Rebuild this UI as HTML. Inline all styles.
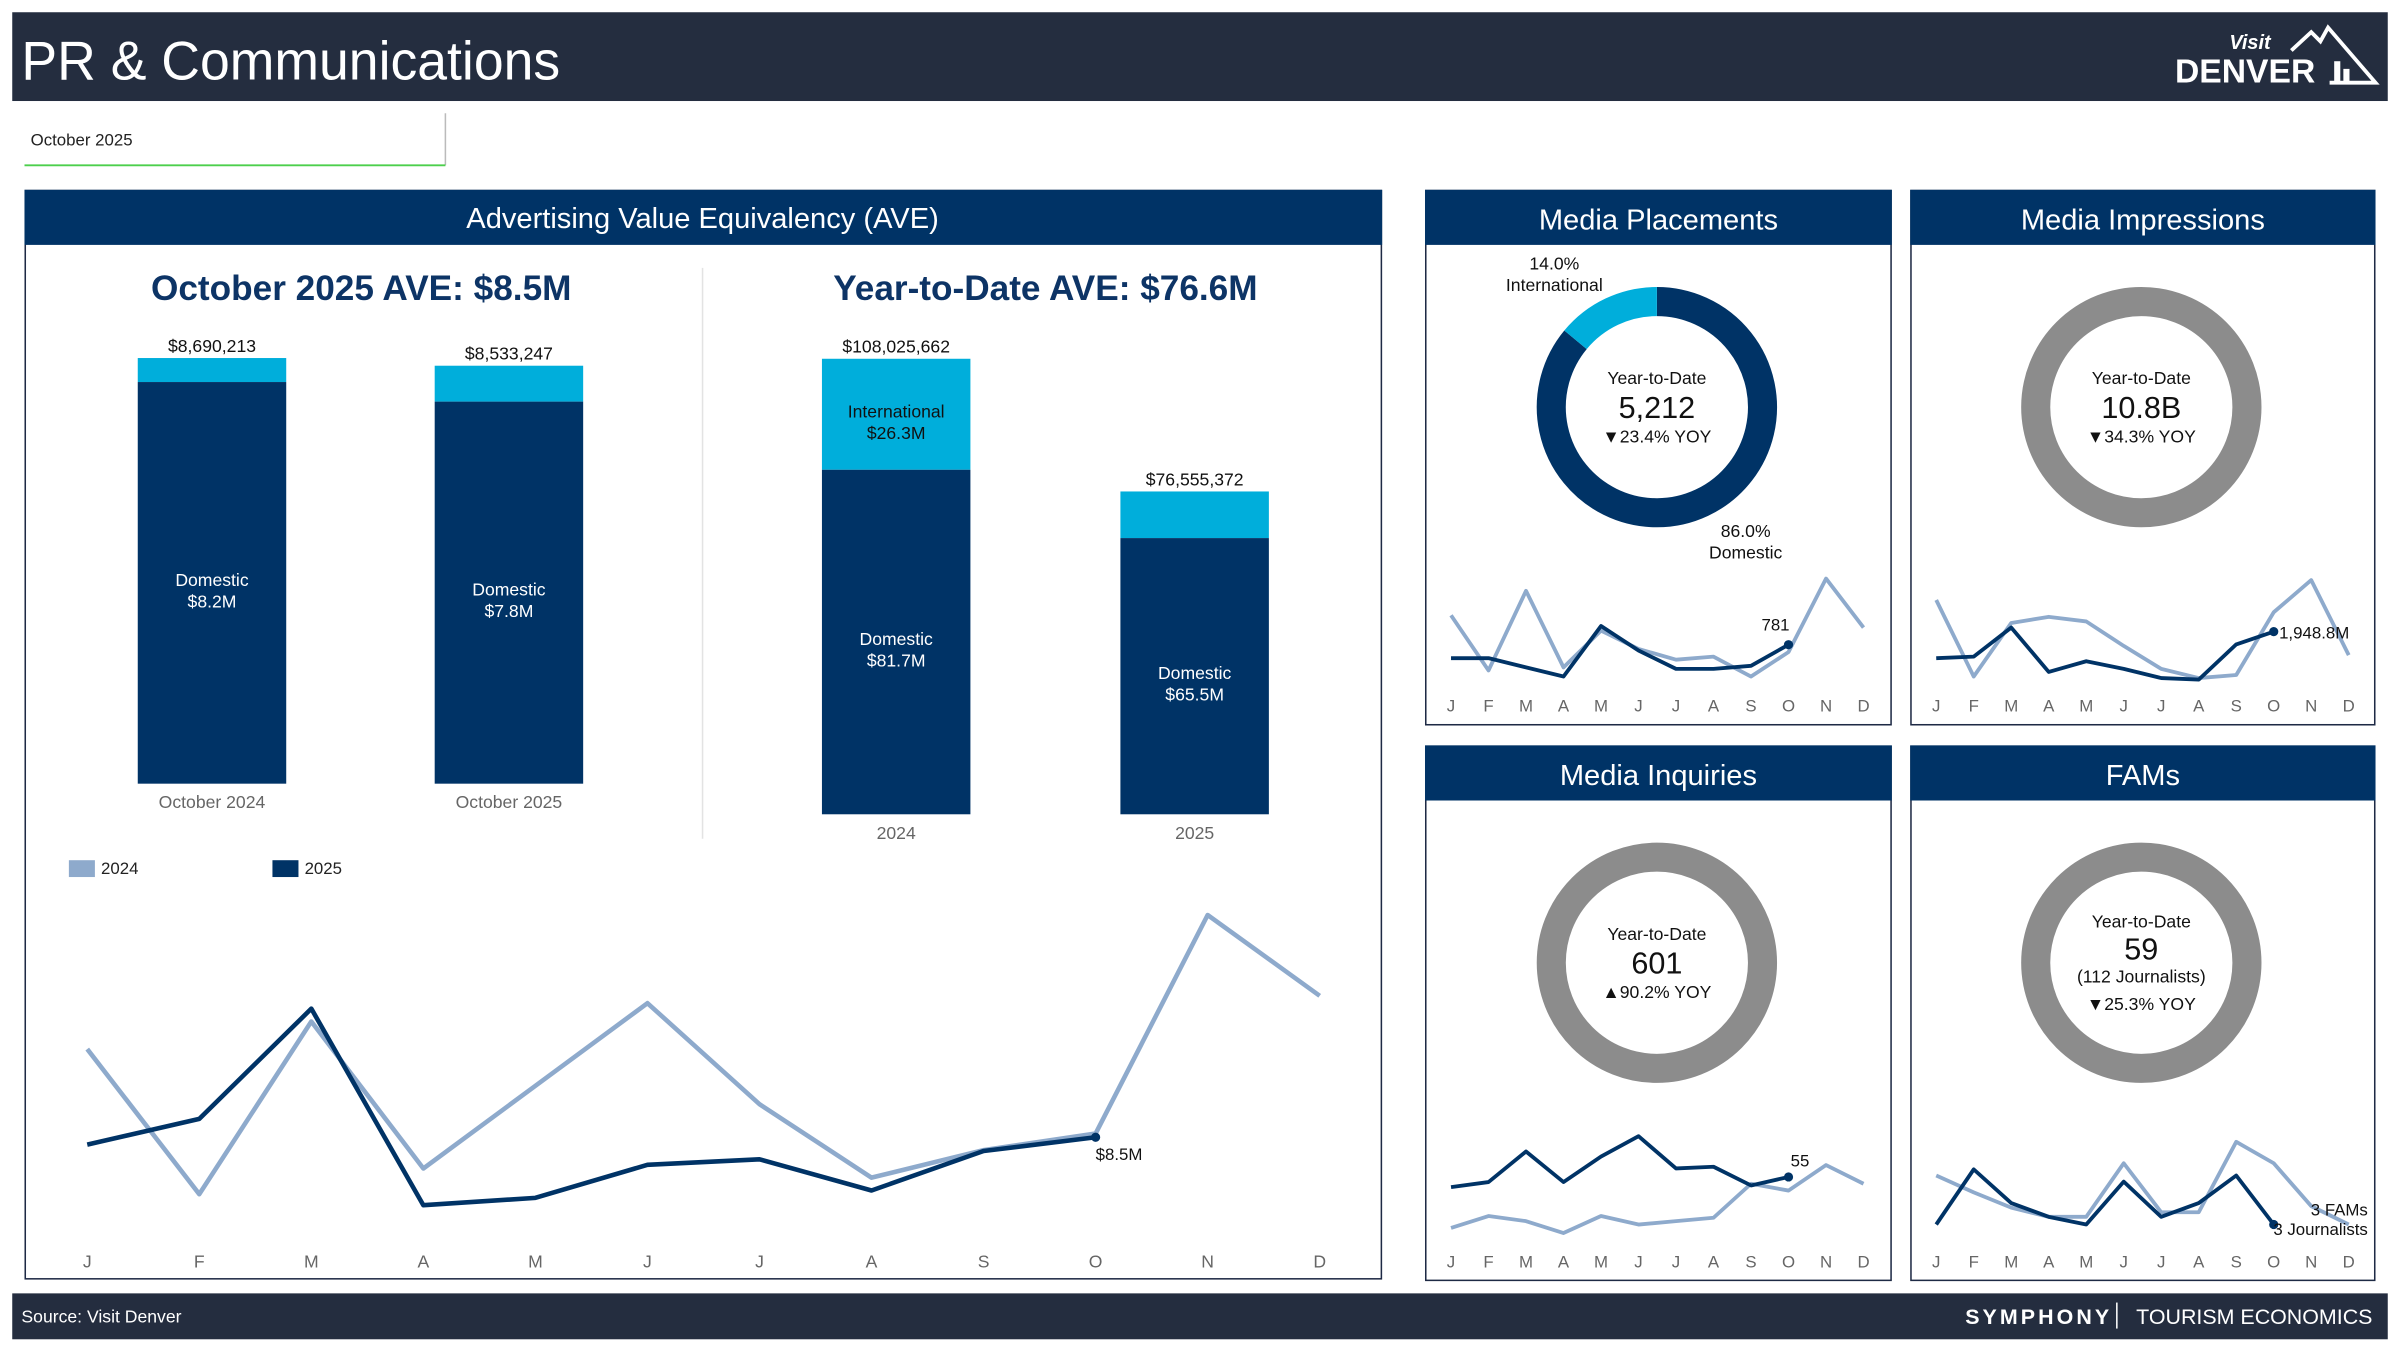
<!DOCTYPE html>
<html><head><meta charset="utf-8"><style>
html,body{margin:0;padding:0;background:#fff;}
svg{display:block;font-family:"Liberation Sans",sans-serif;}
</style></head><body>
<svg id="root" width="2400" height="1350" viewBox="0 0 1568 882" xmlns="http://www.w3.org/2000/svg">
<rect x="0" y="0" width="1568" height="882" fill="#fff"/>
<g>
<rect x="8" y="8" width="1552" height="58" fill="#242d3f"/>
<text x="14" y="52" font-size="36" fill="#fff" textLength="352" lengthAdjust="spacingAndGlyphs">PR &amp; Communications</text>
<g>
<text x="1470" y="32" font-size="13" font-style="italic" font-weight="bold" fill="#fff" text-anchor="middle">Visit</text>
<text x="1421" y="54" font-size="22" font-weight="bold" fill="#fff">DENVER</text>
<polyline points="1497,33 1510,21 1516,27 1521,18 1552,54 1522,54" fill="none" stroke="#fff" stroke-width="2.5"/>
<rect x="1525" y="40" width="4" height="14" fill="#fff"/><rect x="1531" y="45" width="4" height="9" fill="#fff"/>
</g>
</g>
<g>
<rect x="16" y="74" width="275" height="34" fill="#fff"/>
<line x1="291" y1="74" x2="291" y2="108" stroke="#bbb" stroke-width="1"/>
<line x1="16" y1="108" x2="291" y2="108" stroke="#4ccf4c" stroke-width="1.2"/>
<text x="20" y="95" font-size="11" fill="#222">October 2025</text>
</g>

<g>
<rect x="16.5" y="124.5" width="886" height="711" fill="#fff" stroke="#1e2a45" stroke-width="1"/>
<rect x="16" y="124" width="887" height="36" fill="#003366"/>
<text x="459" y="149" font-size="19" fill="#fff" text-anchor="middle">Advertising Value Equivalency (AVE)</text>
<text x="236" y="196" font-size="23" font-weight="bold" fill="#0d3466" text-anchor="middle">October 2025 AVE: $8.5M</text>
<text x="683" y="196" font-size="23" font-weight="bold" fill="#0d3466" text-anchor="middle">Year-to-Date AVE: $76.6M</text>
<line x1="459" y1="175" x2="459" y2="548" stroke="#e3e3e3" stroke-width="1"/>
<g id="bars"></g>
<g>
<rect x="45" y="562" width="17" height="11" fill="#8eaacc"/><text x="66" y="571" font-size="11" fill="#222">2024</text>
<rect x="178" y="562" width="17" height="11" fill="#003366"/><text x="199" y="571" font-size="11" fill="#222">2025</text>
</g>
<g id="aveLine"></g>
</g>

<g id="panels"></g>

<g>
<rect x="8" y="845" width="1552" height="30" fill="#242d3f"/>
<text x="14" y="864" font-size="11.5" fill="#fff">Source: Visit Denver</text>
<text x="1380" y="865" font-size="14" font-weight="bold" fill="#fff" letter-spacing="2" text-anchor="end">SYMPHONY</text>
<line x1="1383" y1="851" x2="1383" y2="868" stroke="#fff" stroke-width="1"/>
<text x="1550" y="865" font-size="14" fill="#fff" text-anchor="end">TOURISM ECONOMICS</text>
</g>
</svg>
<script>
const NS='http://www.w3.org/2000/svg';
function mk(tag,attrs,parent){const e=document.createElementNS(NS,tag);for(const k in attrs)e.setAttribute(k,attrs[k]);parent.appendChild(e);return e;}
function txt(s,attrs,parent){const e=mk('text',attrs,parent);e.textContent=s;return e;}

const monthCats=['October 2024','October 2025'];
const monthDomestic=[8.2,7.8];
const monthTotal=[8690213,8533247];
const monthTotalLabels=['$8,690,213','$8,533,247'];
const monthDomLabels=['$8.2M','$7.8M'];
const ytdCats=['2024','2025'];
const ytdDomestic=[81.7,65.5];
const ytdTotal=[108025662,76555372];
const ytdTotalLabels=['$108,025,662','$76,555,372'];
const ytdDomLabels=['$81.7M','$65.5M'];
const ytdIntlLabels=['$26.3M',''];

const months=['J','F','M','A','M','J','J','A','S','O','N','D'];
const ave2024=[13.3,5.4,14.8,6.8,11.3,15.8,10.3,6.3,7.8,8.7,20.6,16.2];
const ave2025=[8.1,9.5,15.5,4.8,5.2,7.0,7.3,5.6,7.75,8.5];
const aveLastLabel='$8.5M';

const placements2024=[1088,512,1344,544,928,736,624,656,448,704,1472,960];
const placements2025=[640,640,544,448,976,720,528,528,560,781];
const impressions2024=[2652,952,2142,2278,2176,1632,1122,918,986,2380,3094,1428];
const impressions2025=[1360,1394,2040,1054,1292,1122,918,884,1666,1949];
const inquiries2024=[25,32,29,22,32,27,29,31,51,47,62,51];
const inquiries2025=[49,52,70,52,67,79,60,61,50,55];
const fams2024=[6.2,5.1,4.1,3.5,3.5,7.0,3.8,3.8,8.4,7.0,4.2,3.0];
const fams2025=[3.0,6.6,4.4,3.5,3.0,5.8,3.5,4.4,6.2,3.0];
const placementShares=[86.0,14.0];

const NAVY='#003366', LIGHT='#00aedb', PALE='#8eaacc', GRAY='#8c8c8c';

const bars=document.getElementById('bars');
function drawBars(cats,dom,tot,totLabels,domLabels,intlLabels,x0,gap,base,pxPerUnit,unitDiv,catY,pfx){
  cats.forEach((c,i)=>{
    const x=x0+i*gap, w=97;
    const tv=tot[i]/unitDiv;
    const hT=tv*pxPerUnit, hD=dom[i]*pxPerUnit;
    const r1=mk('rect',{x:x,y:base-hT,width:w,height:hT-hD,fill:LIGHT},bars);
    
    
    const r2=mk('rect',{x:x,y:base-hD,width:w,height:hD,fill:NAVY},bars);
    
    
    const t=txt(totLabels[i],{x:x+w/2,y:base-hT-4,'font-size':11.5,'text-anchor':'middle',fill:'#111'},bars);
    
    
    const my=base-hD/2;
    txt('Domestic',{x:x+w/2,y:my+2,'font-size':11.5,'text-anchor':'middle',fill:'#fff'},bars);
    txt(domLabels[i],{x:x+w/2,y:my+16,'font-size':11.5,'text-anchor':'middle',fill:'#fff'},bars);
    if(intlLabels&&intlLabels[i]){
      const iy=base-(hT+hD)/2;
      txt('International',{x:x+w/2,y:iy+2,'font-size':11.5,'text-anchor':'middle',fill:'#111'},bars);
      txt(intlLabels[i],{x:x+w/2,y:iy+16,'font-size':11.5,'text-anchor':'middle',fill:'#111'},bars);
    }
    const cl=txt(c,{x:x+w/2,y:catY,'font-size':11.5,'text-anchor':'middle',fill:'#666'},bars);
    
    
  });
}
drawBars(monthCats,monthDomestic,monthTotal,monthTotalLabels,monthDomLabels,null,90,194,512,32,1e6,528,'month');
drawBars(ytdCats,ytdDomestic,ytdTotal,ytdTotalLabels,ytdDomLabels,ytdIntlLabels,537,195,532,2.755,1e6,548,'ytd');

const al=document.getElementById('aveLine');
const ax=i=>57+i*73.2, ay=v=>845-v*12;
months.forEach((m,i)=>{const t=txt(m,{x:ax(i),y:828,'font-size':11.5,'text-anchor':'middle',fill:'#666'},al);
 });
function poly(vals,xf,yf,color,w,parent,name){
  const p=mk('polyline',{points:vals.map((v,i)=>xf(i)+','+yf(v)).join(' '),fill:'none',stroke:color,'stroke-width':w,'stroke-linejoin':'round'},parent);
  
  
  return p;
}
poly(ave2024,ax,ay,PALE,3,al,'ave-line-2024');
poly(ave2025,ax,ay,NAVY,3,al,'ave-line-2025');
const li=ave2025.length-1;
const dot=mk('circle',{cx:ax(li),cy:ay(ave2025[li]),r:3,fill:NAVY},al);


txt(aveLastLabel,{x:ax(li),y:ay(ave2025[li])+15,'font-size':11,fill:'#111'},al);

const panels=document.getElementById('panels');
function panel(cfg){
  const g=mk('g',{},panels);
  
  
  mk('rect',{x:cfg.x+0.5,y:cfg.y+0.5,width:cfg.w-1,height:349,fill:'#fff',stroke:'#1e2a45','stroke-width':1},g);
  mk('rect',{x:cfg.x,y:cfg.y,width:cfg.w,height:36,fill:NAVY},g);
  const tt=txt(cfg.title,{x:cfg.x+cfg.w/2,y:cfg.y+26,'font-size':19,fill:'#fff','text-anchor':'middle'},g);
  
  
  const cx=cfg.x+cfg.w/2-1, cy=cfg.y+142;
  const R=69;
  if(cfg.shares){
    const total=cfg.shares.reduce((a,b)=>a+b,0);
    let start=0;
    const cols=[NAVY,LIGHT];
    cfg.shares.forEach((s,i)=>{
      const a0=start/total*2*Math.PI, a1=(start+s)/total*2*Math.PI; start+=s;
      const x0=cx+R*Math.sin(a0), y0=cy-R*Math.cos(a0), x1=cx+R*Math.sin(a1), y1=cy-R*Math.cos(a1);
      const arc=mk('path',{d:`M${x0},${y0} A${R},${R} 0 ${a1-a0>Math.PI?1:0} 1 ${x1},${y1}`,fill:'none',stroke:cols[i],'stroke-width':19},g);
      
      
    });
    txt(cfg.shares[1].toFixed(1)+'%',{x:cx-67,y:cy-90,'font-size':11.5,'text-anchor':'middle',fill:'#111'},g);
    txt('International',{x:cx-67,y:cy-76,'font-size':11.5,'text-anchor':'middle',fill:'#111'},g);
    txt(cfg.shares[0].toFixed(1)+'%',{x:cx+58,y:cy+85,'font-size':11.5,'text-anchor':'middle',fill:'#111'},g);
    txt('Domestic',{x:cx+58,y:cy+99,'font-size':11.5,'text-anchor':'middle',fill:'#111'},g);
  } else {
    const c=mk('circle',{cx:cx,cy:cy,r:R,fill:'none',stroke:GRAY,'stroke-width':19},g);
    
    
  }
  const n=cfg.center.length;
  cfg.center.forEach((l,i)=>{
    const big=i===1;
    let y=cy-15+i*19; if(n===4) y=cy-23+i*18;
    txt(l,{x:cx,y:big?y+3:y,'font-size':big?20:11.5,'text-anchor':'middle',fill:'#111'},g);
  });
  const sx=i=>cfg.x+17+i*24.5;
  months.forEach((m,i)=>{txt(m,{x:sx(i),y:cfg.y+341,'font-size':11,'text-anchor':'middle',fill:'#666'},g);});
  poly(cfg.a,sx,cfg.yf,PALE,2.5,g,cfg.name+'-spark-2024');
  poly(cfg.b,sx,cfg.yf,NAVY,2.5,g,cfg.name+'-spark-2025');
  const j=cfg.b.length-1;
  const d=mk('circle',{cx:sx(j),cy:cfg.yf(cfg.b[j]),r:3,fill:NAVY},g);
  
  
  cfg.lbl.forEach((s,k)=>txt(s,{x:cfg.lx,y:cfg.ly+k*13,'font-size':11,'text-anchor':cfg.la||'middle',fill:'#111'},g));
}
panel({name:'media-placements',title:'Media Placements',x:931,y:124,w:305,shares:placementShares,
  center:['Year-to-Date','5,212','▼23.4% YOY'],a:placements2024,b:placements2025,yf:v=>470-v/16,lbl:['781'],lx:1160,ly:412});
panel({name:'media-impressions',title:'Media Impressions',x:1248,y:124,w:304,
  center:['Year-to-Date','10.8B','▼34.3% YOY'],a:impressions2024,b:impressions2025,yf:v=>470-v/34,lbl:['1,948.8M'],lx:1489,ly:417,la:'start'});
panel({name:'media-inquiries',title:'Media Inquiries',x:931,y:487,w:305,
  center:['Year-to-Date','601','▲90.2% YOY'],a:inquiries2024,b:inquiries2025,yf:v=>830-v*1.11,lbl:['55'],lx:1176,ly:762});
panel({name:'fams',title:'FAMs',x:1248,y:487,w:304,
  center:['Year-to-Date','59','(112 Journalists)','▼25.3% YOY'],a:fams2024,b:fams2025,yf:v=>830-v*10,lbl:['3 FAMs','3 Journalists'],lx:1547,ly:794,la:'end'});
</script>
</body></html>
